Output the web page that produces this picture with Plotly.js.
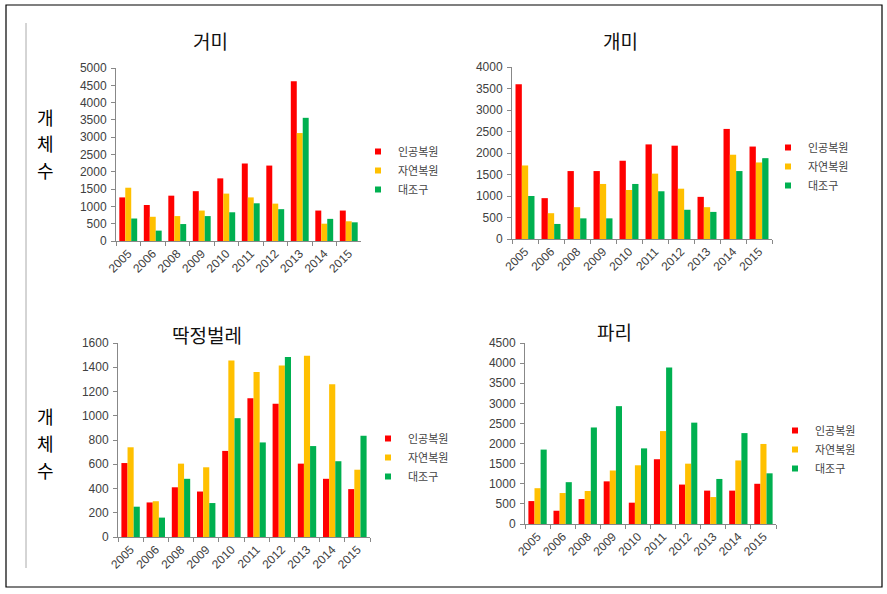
<!DOCTYPE html>
<html>
<head>
<meta charset="utf-8">
<script src="https://cdn.plot.ly/plotly-3.0.1.min.js"></script>
<style>
html,body{margin:0;padding:0;background:#fff;}
#chart{width:887px;height:594px;}
</style>
</head>
<body>
<div id="chart"></div>
<script>
// ---- data ----
const years = ['2005','2006','2008','2009','2010','2011','2012','2013','2014','2015'];
const seriesNames = ['인공복원','자연복원','대조구'];
const panelTitles = ['거미','개미','딱정벌레','파리'];
const yLabel = '개체수';

// 거미 (spider)
const spiderArtificial = [1260,1040,1310,1440,1810,2240,2180,4620,880,880];
const spiderNatural    = [1540,700,720,880,1370,1260,1080,3120,500,570];
const spiderControl    = [650,300,490,720,830,1090,920,3560,640,540];
// 개미 (ant)
const antArtificial = [3600,950,1580,1580,1820,2200,2170,980,2560,2150];
const antNatural    = [1710,600,740,1280,1140,1520,1170,740,1960,1780];
const antControl    = [1000,350,480,480,1280,1110,680,630,1580,1880];
// 딱정벌레 (beetle)
const beetleArtificial = [610,285,410,375,710,1145,1100,605,480,395];
const beetleNatural    = [740,295,605,575,1455,1360,1415,1495,1260,555];
const beetleControl    = [250,160,480,280,980,780,1485,750,625,835];
// 파리 (fly)
const flyArtificial = [570,330,620,1060,530,1610,980,830,830,1000];
const flyNatural    = [890,770,820,1330,1460,2310,1500,670,1580,1990];
const flyControl    = [1850,1040,2400,2930,1880,3890,2520,1120,2260,1260];

const yMax  = [5000,4000,1600,4500];
const yStep = [500,500,200,500];

// ---- styling ----
const colors = ['#FF0000','#FFC000','#00B050'];
const W = 887, H = 594;
const px = v => v / W;
const py = v => 1 - v / H;

const panels = [
  [spiderArtificial, spiderNatural, spiderControl],
  [antArtificial, antNatural, antControl],
  [beetleArtificial, beetleNatural, beetleControl],
  [flyArtificial, flyNatural, flyControl]
];
// plot areas in pixels [left, right, bottom, top]
const boxes = [
  [116, 361, 241, 68],
  [512, 772, 239, 67],
  [118, 370, 537, 343],
  [525, 776, 524, 343]
];
const legendPos = [[358, 137],[768, 133],[368, 424],[775, 416]];
const titlePos = [[210, 41],[620, 40],[207, 334],[614, 331]];

const traces = [];
panels.forEach((p, i) => {
  const lgId = i === 0 ? 'legend' : 'legend' + (i + 1);
  p.forEach((vals, j) => {
    traces.push({
      type: 'bar',
      x: years,
      y: vals,
      name: seriesNames[j],
      marker: {color: colors[j], line: {width: 0}},
      xaxis: 'x' + (i + 1),
      yaxis: 'y' + (i + 1),
      showlegend: false
    });
  });
  // legend keys (small squares, like the original); no visible point
  seriesNames.forEach((nm, j) => {
    traces.push({
      type: 'scatter', mode: 'markers',
      x: [null], y: [null],
      name: nm,
      marker: {symbol: 'square', size: 6, color: colors[j]},
      xaxis: 'x' + (i + 1),
      yaxis: 'y' + (i + 1),
      legend: lgId,
      showlegend: true
    });
  });
});

const tickFont = {family: 'Liberation Sans, Arial, sans-serif', size: 12, color: '#404040'};
const layout = {
  width: W, height: H,
  margin: {l: 0, r: 0, t: 0, b: 0},
  paper_bgcolor: '#fff',
  plot_bgcolor: '#fff',
  barmode: 'group',
  bargap: 0.27,
  bargroupgap: 0,
  showlegend: true,
  annotations: [],
  shapes: [
    {type: 'rect', xref: 'paper', yref: 'paper', x0: px(6), x1: px(882), y0: py(587), y1: py(5),
     line: {color: '#000', width: 1.2}, fillcolor: 'rgba(0,0,0,0)'},
    {type: 'line', xref: 'paper', yref: 'paper', x0: px(26), x1: px(26), y0: py(568), y1: py(23),
     line: {color: '#aaaaaa', width: 1}}
  ]
};

boxes.forEach((b, i) => {
  const n = i + 1;
  layout['xaxis' + n] = {
    domain: [px(b[0]), px(b[1])],
    anchor: 'y' + n,
    type: 'category',
    categoryorder: 'array', categoryarray: years,
    tickangle: -45,
    tickfont: tickFont,
    showline: true, linecolor: '#888', linewidth: 1,
    ticks: 'outside', ticklen: 4, tickcolor: '#888',
    tickson: 'boundaries',
    showgrid: false, zeroline: false,
    fixedrange: true
  };
  layout['yaxis' + n] = {
    domain: [py(b[2]), py(b[3])],
    anchor: 'x' + n,
    range: [0, yMax[i]],
    dtick: yStep[i],
    tick0: 0,
    tickfont: tickFont,
    ticklabelstandoff: 2,
    showline: true, linecolor: '#888', linewidth: 1,
    ticks: 'outside', ticklen: 4, tickcolor: '#888',
    showgrid: false, zeroline: false,
    fixedrange: true
  };
  const lg = {
    x: px(legendPos[i][0]), y: py(legendPos[i][1]),
    xanchor: 'left', yanchor: 'top',
    xref: 'paper', yref: 'paper',
    bgcolor: 'rgba(0,0,0,0)',
    font: {family: 'Noto Sans CJK KR, sans-serif', size: 11, color: '#444'},
    itemwidth: 30,
    tracegroupgap: 0
  };
  layout[i === 0 ? 'legend' : 'legend' + n] = lg;
  layout.annotations.push({
    text: panelTitles[i], xref: 'paper', yref: 'paper',
    x: px(titlePos[i][0]), y: py(titlePos[i][1]),
    xanchor: 'center', yanchor: 'middle', showarrow: false,
    font: {family: 'Noto Sans CJK KR, sans-serif', size: 19, color: '#111'}
  });
});

// vertical "개체수" labels, one character per line
const labelChars = yLabel.split('');
[143, 443].forEach(cy => {
  labelChars.forEach((ch, k) => {
    layout.annotations.push({
      text: ch, xref: 'paper', yref: 'paper',
      x: px(45), y: py(cy + (k - 1) * 26.5), xanchor: 'center', yanchor: 'middle', showarrow: false,
      font: {family: 'Noto Sans CJK KR, sans-serif', size: 18, color: '#000'}
    });
  });
});

Plotly.newPlot('chart', traces, layout, {displayModeBar: false, staticPlot: true});
</script>
</body>
</html>
